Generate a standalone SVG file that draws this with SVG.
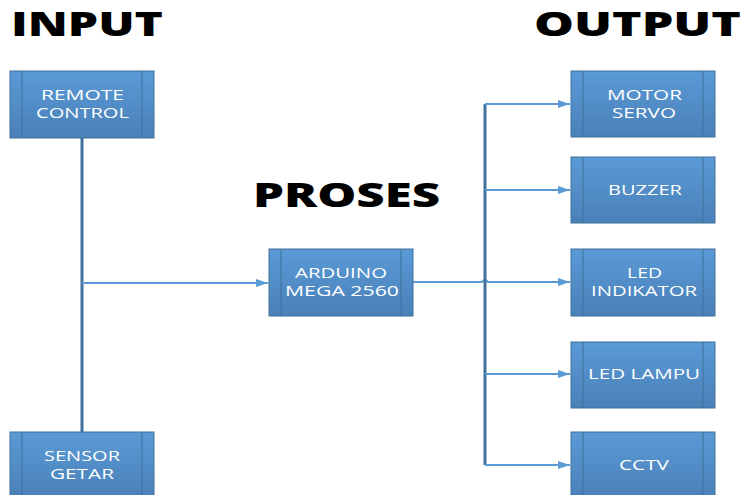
<svg xmlns="http://www.w3.org/2000/svg" width="746" height="495" viewBox="0 0 746 495">
<style>
.box{fill:url(#g);stroke:#41719C;stroke-width:1}
.div{stroke:#41719C;stroke-width:1}
.lbl{font-family:"Open Sans","Liberation Sans",sans-serif;font-size:14px;fill:#fff}
.hd{font-family:"Open Sans","DejaVu Sans",sans-serif;font-weight:800;fill:#000}
.ln{stroke:#5B9BD5;stroke-width:2;fill:none}
.bus{stroke:#41719C;stroke-width:3;fill:none}
</style>
<defs>
<linearGradient id="g" x1="0" y1="0" x2="0" y2="1">
<stop offset="0" stop-color="#5A9AD6"/>
<stop offset="1" stop-color="#4A80B8"/>
</linearGradient>
<marker id="ar" markerWidth="12" markerHeight="8" refX="12" refY="4" orient="auto" markerUnits="userSpaceOnUse">
<path d="M0,0 L12,4 L0,8 Z" fill="#5B9BD5"/>
</marker>
</defs>
<text class="hd" x="11" y="36" font-size="33" textLength="152" lengthAdjust="spacingAndGlyphs">INPUT</text>
<text class="hd" x="253" y="207" font-size="33" textLength="187" lengthAdjust="spacingAndGlyphs">PROSES</text>
<text class="hd" x="534" y="36" font-size="33" textLength="207" lengthAdjust="spacingAndGlyphs">OUTPUT</text>
<g id="connectors">
<path class="bus" d="M82,138 V432"/>
<path class="ln" d="M82,283 H268" marker-end="url(#ar)"/>
<path class="ln" d="M413,282 H482 Q485,278 488,282 H570" marker-end="url(#ar)"/>
<path class="bus" d="M485,104 V465"/>
<path class="ln" d="M485,104 H570" marker-end="url(#ar)"/>
<path class="ln" d="M485,190 H570" marker-end="url(#ar)"/>
<path class="ln" d="M485,374 H570" marker-end="url(#ar)"/>
<path class="ln" d="M485,465 H570" marker-end="url(#ar)"/>
</g>
<g id="remote">
<rect class="box" x="10" y="71" width="144" height="67"/>
<path class="div" d="M22,71 V138 M142,71 V138"/>
<text class="lbl" x="41" y="100" textLength="83" lengthAdjust="spacingAndGlyphs">REMOTE</text>
<text class="lbl" x="36" y="118" textLength="93" lengthAdjust="spacingAndGlyphs">CONTROL</text>
</g>
<g id="sensor">
<rect class="box" x="10" y="432" width="144" height="67"/>
<path class="div" d="M22,432 V499 M142,432 V499"/>
<text class="lbl" x="44" y="461" textLength="76" lengthAdjust="spacingAndGlyphs">SENSOR</text>
<text class="lbl" x="50" y="479" textLength="64" lengthAdjust="spacingAndGlyphs">GETAR</text>
</g>
<g id="arduino">
<rect class="box" x="269" y="249" width="144" height="67"/>
<path class="div" d="M281,249 V316 M401,249 V316"/>
<text class="lbl" x="295" y="278" textLength="92" lengthAdjust="spacingAndGlyphs">ARDUINO</text>
<text class="lbl" x="285" y="296" textLength="114" lengthAdjust="spacingAndGlyphs">MEGA 2560</text>
</g>
<g id="servo">
<rect class="box" x="571" y="71" width="144" height="66"/>
<path class="div" d="M583,71 V137 M703,71 V137"/>
<text class="lbl" x="607" y="100" textLength="75" lengthAdjust="spacingAndGlyphs">MOTOR</text>
<text class="lbl" x="612" y="118" textLength="64" lengthAdjust="spacingAndGlyphs">SERVO</text>
</g>
<g id="buzzer">
<rect class="box" x="571" y="157" width="144" height="66"/>
<path class="div" d="M583,157 V223 M703,157 V223"/>
<text class="lbl" x="608" y="195" textLength="74" lengthAdjust="spacingAndGlyphs">BUZZER</text>
</g>
<g id="ledind">
<rect class="box" x="571" y="249" width="144" height="67"/>
<path class="div" d="M583,249 V316 M703,249 V316"/>
<text class="lbl" x="627" y="278" textLength="35" lengthAdjust="spacingAndGlyphs">LED</text>
<text class="lbl" x="591" y="296" textLength="106" lengthAdjust="spacingAndGlyphs">INDIKATOR</text>
</g>
<g id="ledlampu">
<rect class="box" x="571" y="342" width="144" height="66"/>
<path class="div" d="M583,342 V408 M703,342 V408"/>
<text class="lbl" x="588" y="379" textLength="112" lengthAdjust="spacingAndGlyphs">LED LAMPU</text>
</g>
<g id="cctv">
<rect class="box" x="571" y="432" width="144" height="67"/>
<path class="div" d="M583,432 V499 M703,432 V499"/>
<text class="lbl" x="619" y="470" textLength="50" lengthAdjust="spacingAndGlyphs">CCTV</text>
</g>
</svg>
